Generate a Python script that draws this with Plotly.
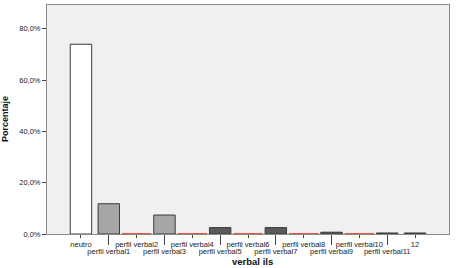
import plotly.graph_objects as go

categories = ["neutro", "perfil verbal1", "perfil verbal2", "perfil verbal3", "perfil verbal4",
              "perfil verbal5", "perfil verbal6", "perfil verbal7", "perfil verbal8", "perfil verbal9",
              "perfil verbal10", "perfil verbal11", "12"]
values = [74.0, 11.8, 0, 7.4, 0, 2.5, 0, 2.5, 0, 0.7, 0, 0.4, 0.4]
fill_colors = ["#ffffff", "#a6a6a6", "#a6a6a6", "#a6a6a6", "#5a5a5a", "#5a5a5a", "#5a5a5a",
               "#5a5a5a", "#5a5a5a", "#5a5a5a", "#5a5a5a", "#5a5a5a", "#5a5a5a"]
y_ticks = [0, 20, 40, 60, 80]
y_tick_labels = ["0,0%", "20,0%", "40,0%", "60,0%", "80,0%"]
x_title = "verbal ils"
y_title = "Porcentaje"

FONT = "Liberation Sans, Arial, sans-serif"
idx = list(range(len(categories)))
even = [i for i in idx if i % 2 == 0]
odd = [i for i in idx if i % 2 == 1]
zero_idx = [i for i, v in zip(idx, values) if v == 0]
xr = [-1.22, len(categories) - 1 + 1.22]

fig = go.Figure()
fig.add_trace(go.Bar(x=idx, y=values, width=0.77,
                     marker=dict(color=fill_colors, line=dict(color="#3a3a3a", width=1)),
                     showlegend=False, hoverinfo="skip"))
fig.add_trace(go.Scatter(x=zero_idx, y=[0] * len(zero_idx), mode="markers",
                         marker=dict(symbol="line-ew-open", size=21, line=dict(color="#3a3a3a", width=2)),
                         cliponaxis=False, showlegend=False, hoverinfo="skip"))
fig.add_trace(go.Scatter(x=odd, y=[0] * len(odd), mode="markers", xaxis="x2",
                         marker=dict(opacity=0), showlegend=False, hoverinfo="skip"))

tickfont = dict(size=7.5, family=FONT, color="#222222")
fig.update_layout(
    width=457, height=268,
    margin=dict(l=47, r=8, t=5, b=34),
    paper_bgcolor="white", plot_bgcolor="#f0f0f0",
    font=dict(family=FONT, size=8, color="#222222"),
    xaxis=dict(range=xr, tickmode="array", tickvals=even, ticktext=[categories[i] for i in even],
               ticks="outside", ticklen=3, tickwidth=1, tickcolor="#444444", automargin=False,
               showline=True, linecolor="#8a8a8a", linewidth=1, mirror=True,
               showgrid=False, zeroline=False, tickfont=tickfont),
    xaxis2=dict(range=xr, overlaying="x", anchor="y", side="bottom", tickmode="array",
                tickvals=odd, ticktext=[categories[i] for i in odd], automargin=False,
                ticks="outside", ticklen=10, tickwidth=1, tickcolor="#444444",
                showline=False, showgrid=False, zeroline=False, tickfont=tickfont),
    yaxis=dict(range=[0, 89.3], tickmode="array", tickvals=y_ticks, ticktext=y_tick_labels,
               ticks="outside", ticklen=4, tickwidth=1, tickcolor="#444444", automargin=False,
               showline=True, linecolor="#8a8a8a", linewidth=1, mirror=True,
               showgrid=False, zeroline=False, tickfont=tickfont),
    annotations=[
        dict(text="<b>" + y_title + "</b>", xref="paper", yref="paper", x=-(47 - 4.5) / 402, y=0.5,
             textangle=-90, showarrow=False, xanchor="center", yanchor="middle",
             font=dict(size=9, family=FONT, color="#111111")),
        dict(text="<b>" + x_title + "</b>", xref="paper", yref="paper", x=0.51, y=-(261.5 - 234) / 229,
             showarrow=False, xanchor="center", yanchor="middle",
             font=dict(size=9.5, family=FONT, color="#111111")),
    ],
)

fig.write_html("out.html", config={"displayModeBar": False},
               post_script="document.body.style.margin='0';")
